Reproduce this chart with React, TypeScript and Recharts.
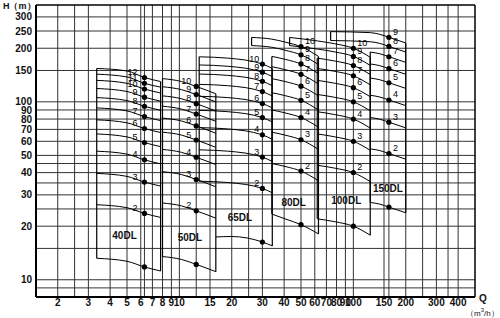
import React from 'react';
import { ComposedChart, Line, Scatter, XAxis, YAxis, ReferenceLine } from 'recharts';

const FONT = '"Liberation Sans", Arial, sans-serif';

// axis ticks (labelled) and grid lines
const xTickValues = [2, 3, 4, 5, 6, 7, 8, 9, 10, 15, 20, 30, 40, 50, 60, 70, 80, 90, 100, 150, 200, 300, 400];
const yTickValues = [10, 20, 30, 40, 50, 60, 70, 80, 90, 100, 150, 200, 250, 300];
const xGridValues = [2, 2.5, 3, 4, 5, 6, 6.3, 7, 8, 9, 10, 12.5, 15, 20, 25, 30, 40, 50, 60, 70, 80, 90, 100, 150, 160, 200, 250, 300, 350, 400];
const yGridValues = [9, 10, 15, 20, 25, 30, 35, 40, 45, 50, 60, 70, 80, 90, 100, 150, 200, 250, 300];

// pump families
const familyNames = ['40DL', '50DL', '65DL', '80DL', '100DL', '150DL'];
const ratedFlows = [6.3, 12.5, 30, 50, 100, 160];
const familyLabelQ = [4.84, 11.5, 22.3, 45.4, 91, 158];
const familyLabelH = [17.7, 17.2, 22.3, 27.1, 27.8, 32.4];

// 40DL, stages 1–12
const q40 = [3.35, 5, 6.3, 7.8];
const h40 = [
  [13.2, 12.7, 11.8, 11.2],
  [26.4, 25.4, 23.6, 22.4],
  [39.6, 38.1, 35.4, 33.6],
  [52.8, 50.8, 47.2, 44.8],
  [66, 63.5, 59, 56],
  [79.2, 76.2, 70.8, 67.2],
  [92.4, 88.9, 82.6, 78.4],
  [105.6, 101.6, 94.4, 89.6],
  [118.8, 114.3, 106.2, 100.8],
  [132, 127, 118, 112],
  [143, 138, 127, 121],
  [154, 149, 137, 130],
];

// 50DL, stages 1–10
const q50 = [8, 10.3, 12.5, 16.2];
const h50 = [
  [13.5, 13, 12.2, 11.1],
  [27, 26, 24.4, 22.2],
  [40.5, 39, 36.6, 33.3],
  [54, 52, 48.8, 44.4],
  [67.5, 65, 61, 55.5],
  [81, 78, 73.2, 66.6],
  [94.5, 91, 85.4, 77.7],
  [108, 104, 97.6, 88.8],
  [121.5, 117, 109.8, 99.9],
  [135, 130, 122, 111],
];

// 65DL, stage 1 and stages 2–10
const q65a = [16.2, 20, 30, 34.2];
const h65a = [[17.4, 17.5, 16.3, 15.5]];
const q65 = [13, 19, 30, 34.2];
const h65 = [
  [35.8, 35.2, 32.6, 30.8],
  [53.7, 52.8, 48.9, 46.2],
  [71.6, 70.4, 65.2, 61.6],
  [89.5, 88, 81.5, 77],
  [107.4, 105.6, 97.8, 92.4],
  [125.3, 123.2, 114.1, 107.8],
  [143.2, 140.8, 130.4, 123.2],
  [161.1, 158.4, 146.7, 138.6],
  [179, 176, 163, 154],
];

// 80DL, stages 1–8 and 9–10
const q80 = [34, 41, 50, 63];
const h80 = [
  [23.4, 21.9, 20.4, 18.1],
  [45, 43.2, 40.8, 36],
  [67.5, 64.8, 61.2, 54],
  [90, 86.4, 81.6, 72],
  [112.5, 108, 102, 90],
  [135, 129.6, 122.4, 108],
  [157.5, 151.2, 142.8, 126],
  [180, 172.8, 163.2, 144],
];
const q80x = [26, 34, 41, 50, 63];
const h80x = [
  [207, 202.5, 194.4, 183.6, 162],
  [230, 225, 216, 204, 180],
];

// 100DL, stages 1–8 and 9–10
const q100 = [62, 78, 100, 125];
const h100 = [
  [22, 21.2, 20, 17.8],
  [44, 42.4, 40, 35.6],
  [66, 63.6, 60, 53.4],
  [88, 84.8, 80, 71.2],
  [110, 106, 100, 89],
  [132, 127.2, 120, 106.8],
  [154, 148.4, 140, 124.6],
  [176, 169.6, 160, 142.4],
];
const q100x = [43, 62, 78, 100, 125];
const h100x = [
  [207, 198, 190.8, 180, 160.2],
  [230, 220, 212, 200, 178],
];

// 150DL, stages 1–7 and 8–9
const q150 = [125, 142, 160, 200];
const h150 = [
  [27.2, 26.6, 25.6, 23.8],
  [54.4, 53.2, 51.2, 47.6],
  [81.6, 79.8, 76.8, 71.4],
  [108.8, 106.4, 102.4, 95.2],
  [136, 133, 128, 119],
  [163.2, 159.6, 153.6, 142.8],
  [190.4, 186.2, 179.2, 166.6],
];
const q150x = [74, 125, 142, 160, 200];
const h150x = [
  [221, 217.6, 212.8, 204.8, 190.4],
  [248, 244.8, 239.4, 230.4, 214.2],
];

const familyGroups = [
  [{ q: q40, first: 1, h: h40 }],
  [{ q: q50, first: 1, h: h50 }],
  [{ q: q65a, first: 1, h: h65a }, { q: q65, first: 2, h: h65 }],
  [{ q: q80, first: 1, h: h80 }, { q: q80x, first: 9, h: h80x }],
  [{ q: q100, first: 1, h: h100 }, { q: q100x, first: 9, h: h100x }],
  [{ q: q150, first: 1, h: h150 }, { q: q150x, first: 8, h: h150x }],
];

// styling: stage label offset from the rated dot (negative = left side)
const stageLabelDx = [-7, -5, -3, 4, 4, 4];

type Pt = { q: number; h: number };
type Curve = { id: string; pts: Pt[] };
type DotPt = { q: number; h: number; stage: number; dx: number };

const curves: Curve[] = [];
const bounds: Curve[] = [];
const dotSets: DotPt[][] = [];

familyGroups.forEach((groups, fi) => {
  const dots: DotPt[] = [];
  const lastH: number[] = [];
  let lastQ = 0;
  groups.forEach((g, gi) => {
    const firstH: number[] = [];
    g.h.forEach((row, ri) => {
      const stage = g.first + ri;
      curves.push({ id: `${fi}-${gi}-${ri}`, pts: g.q.map((qq, j) => ({ q: qq, h: row[j] })) });
      const k = g.q.indexOf(ratedFlows[fi]);
      dots.push({ q: ratedFlows[fi], h: row[k], stage, dx: stageLabelDx[fi] });
      firstH.push(row[0]);
      lastH.push(row[row.length - 1]);
      lastQ = g.q[g.q.length - 1];
    });
    if (firstH.length > 1) {
      bounds.push({
        id: `L${fi}-${gi}`,
        pts: [
          { q: g.q[0], h: Math.min(...firstH) },
          { q: g.q[0], h: Math.max(...firstH) },
        ],
      });
    }
  });
  bounds.push({
    id: `R${fi}`,
    pts: [
      { q: lastQ, h: Math.min(...lastH) },
      { q: lastQ, h: Math.max(...lastH) },
    ],
  });
  dotSets.push(dots);
});

const familyLabelData = familyNames.map((n, i) => ({ q: familyLabelQ[i], h: familyLabelH[i], name: n }));

function DotShape(props: any) {
  const { cx, cy, payload } = props;
  if (cx == null || cy == null) return <g />;
  const dx = payload.dx;
  return (
    <g>
      <circle cx={cx} cy={cy} r={2.6} fill="#000" />
      {payload.stage > 1 && (
        <text
          x={cx + dx}
          y={cy - 2.5}
          textAnchor={dx < 0 ? 'end' : 'start'}
          fontSize={9}
          fontFamily={FONT}
          fill="#000"
        >
          {payload.stage}
        </text>
      )}
    </g>
  );
}

function FamilyLabel(props: any) {
  const { cx, cy, payload } = props;
  if (cx == null || cy == null) return <g />;
  return (
    <text x={cx} y={cy + 3.5} textAnchor="middle" fontSize={10} fontWeight="bold" fontFamily={FONT} fill="#111">
      {payload.name}
    </text>
  );
}

const tickStyle = { fontSize: 10, fill: '#111', fontWeight: 'bold', fontFamily: FONT };

export default function App() {
  return (
    <div style={{ position: 'absolute', left: 0, top: 0, width: 500, height: 318, background: '#fff' }}>
      <ComposedChart width={500} height={318} margin={{ top: 5, right: 25, bottom: 0, left: 0 }}>
        <XAxis
          dataKey="q"
          type="number"
          scale="log"
          domain={[1.5, 500]}
          allowDataOverflow
          ticks={xTickValues}
          interval={0}
          height={21}
          tickLine={false}
          tickSize={0}
          tickMargin={2}
          axisLine={{ stroke: '#000', strokeWidth: 2 }}
          tick={tickStyle}
        />
        <YAxis
          dataKey="h"
          type="number"
          scale="log"
          domain={[8, 350]}
          allowDataOverflow
          ticks={yTickValues}
          interval={0}
          width={36}
          tickLine={false}
          tickSize={0}
          tickMargin={4}
          axisLine={{ stroke: '#000', strokeWidth: 2 }}
          tick={tickStyle}
        />
        {xGridValues.map((v) => (
          <ReferenceLine key={`gx${v}`} x={v} stroke="#333" strokeWidth={1} />
        ))}
        {yGridValues.map((v) => (
          <ReferenceLine key={`gy${v}`} y={v} stroke="#333" strokeWidth={1} />
        ))}
        <ReferenceLine x={500} stroke="#000" strokeWidth={1.5} ifOverflow="visible" />
        <ReferenceLine y={350} stroke="#000" strokeWidth={1.5} ifOverflow="visible" />
        {curves.map((c) => (
          <Line
            key={c.id}
            data={c.pts}
            dataKey="h"
            type="monotone"
            stroke="#000"
            strokeWidth={1}
            dot={false}
            activeDot={false}
            isAnimationActive={false}
          />
        ))}
        {bounds.map((c) => (
          <Line
            key={c.id}
            data={c.pts}
            dataKey="h"
            type="linear"
            stroke="#000"
            strokeWidth={1.2}
            dot={false}
            activeDot={false}
            isAnimationActive={false}
          />
        ))}
        {dotSets.map((d, i) => (
          <Scatter key={`d${i}`} data={d} dataKey="h" shape={<DotShape />} isAnimationActive={false} />
        ))}
        <Scatter data={familyLabelData} dataKey="h" shape={<FamilyLabel />} isAnimationActive={false} />
      </ComposedChart>
      <div style={{ position: 'absolute', left: 3, top: 0, fontFamily: FONT, fontSize: 9, fontWeight: 'bold', color: '#111', lineHeight: '12px', whiteSpace: 'nowrap' }}>
        H（m）
      </div>
      <div style={{ position: 'absolute', left: 479, top: 293, fontFamily: FONT, fontSize: 10, fontWeight: 'bold', color: '#111', lineHeight: '12px' }}>
        Q
      </div>
      <div style={{ position: 'absolute', left: 466, top: 305, fontFamily: FONT, fontSize: 8, color: '#111', lineHeight: '11px', whiteSpace: 'nowrap' }}>
        （m<sup style={{ fontSize: 6 }}>3</sup>/h）
      </div>
    </div>
  );
}
